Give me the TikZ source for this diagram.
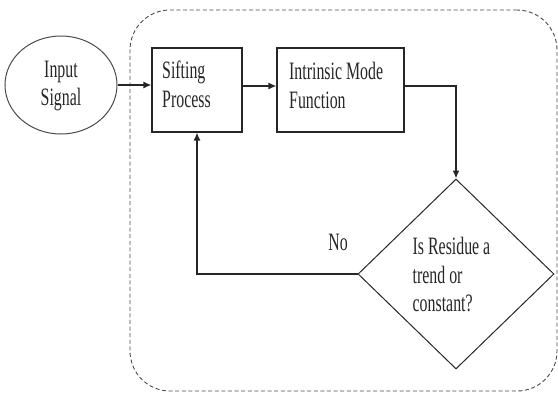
\documentclass[tikz,border=0pt]{standalone}
\usepackage{fontspec}
\setmainfont{Liberation Serif}[FakeStretch=0.635]
\usetikzlibrary{shapes.geometric,arrows.meta}
\definecolor{ink}{HTML}{262626}
\definecolor{rim}{HTML}{4A4A4A}
\tikzset{
  txt/.style={font=\fontsize{25}{28.5}\selectfont, text=ink, inner sep=0pt, align=left},
  stepbox/.style={draw=ink, line width=1.1pt, minimum width=#1, minimum height=84pt, inner sep=0pt},
  arr/.style={draw=ink, line width=1.4pt, -{Latex[length=8pt,width=7pt]}},
}
\begin{document}
\begin{tikzpicture}[x=1pt,y=-1pt]
\useasboundingbox (0,0) rectangle (558,394);
% dashed group
\node[draw=rim, line width=0.9pt, dash pattern=on 4pt off 2.6pt, rounded corners=40pt,
      minimum width=427pt, minimum height=381pt, inner sep=0pt] (grp) at (343.5,200.5) {};
% input ellipse
\node[ellipse, draw=rim, line width=1pt, minimum width=112pt, minimum height=98pt, inner sep=0pt] (in) at (61,85) {};
\node[txt, align=center, anchor=north] (intxt) at (61,60.5) {Input\\Signal};
% boxes
\node[stepbox=90pt] (sift) at (197,90) {};
\node[txt, anchor=north west] (sifttxt) at (162,61) {Sifting\\Process};
\node[stepbox=127pt] (imf) at (340.5,90) {};
\node[txt, anchor=north west] (imftxt) at (289,62) {Intrinsic Mode\\Function};
% decision diamond
\node[diamond, draw=ink, line width=1pt, minimum width=196pt, minimum height=190pt, inner sep=0pt] (dia) at (456,274) {};
\node[txt, anchor=north west] (diatxt) at (412.5,237) {Is Residue a\\trend or\\constant?};
\node[txt] (no) at (338,242) {No};
% connectors
\draw[arr] (in.east) -- (in.east -| sift.west);
\draw[arr] ([yshift=4pt]sift.east) -- ([yshift=4pt]imf.west);
\draw[arr] ([yshift=4pt]imf.east) -| (dia.north);
\draw[arr] (dia.west) -| (sift.south);
\end{tikzpicture}
\end{document}
